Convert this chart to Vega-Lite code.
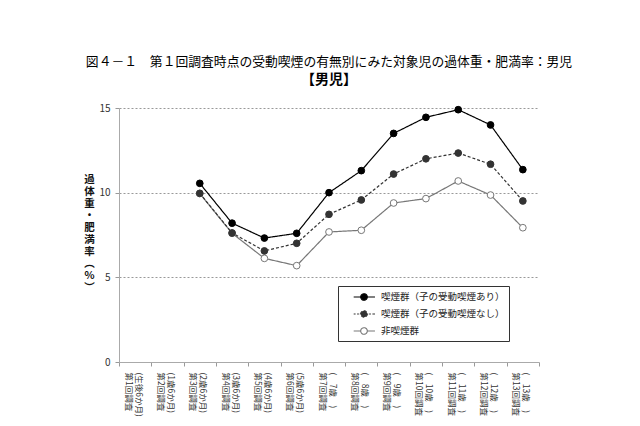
{
  "$schema": "https://vega.github.io/schema/vega-lite/v6.json",
  "width": 420,
  "height": 254,
  "autosize": {"type": "none"},
  "padding": {"left": 119, "top": 108, "right": 101, "bottom": 64},
  "background": "white",
  "config": {
    "font": "Noto Sans CJK JP",
    "view": {"stroke": null},
    "axis": {"domainColor": "#999999", "tickColor": "#999999", "labelColor": "#333333"}
  },
  "title": {
    "text": "図４－１　第１回調査時点の受動喫煙の有無別にみた対象児の過体重・肥満率：男児",
    "subtitle": "【男児】",
    "fontSize": 12.8,
    "fontWeight": "normal",
    "color": "#000000",
    "subtitleFontSize": 14,
    "subtitleFontWeight": "bold",
    "subtitleColor": "#000000",
    "subtitlePadding": 4,
    "anchor": "middle",
    "offset": 16
  },
  "data": {
    "values": [
      {"series": "非喫煙群", "survey": "(生後6か月)|第1回調査", "value": null},
      {"series": "非喫煙群", "survey": "(1歳6か月)|第2回調査", "value": null},
      {"series": "非喫煙群", "survey": "(2歳6か月)|第3回調査", "value": 9.95},
      {"series": "非喫煙群", "survey": "(3歳6か月)|第4回調査", "value": 7.6},
      {"series": "非喫煙群", "survey": "(4歳6か月)|第5回調査", "value": 6.12},
      {"series": "非喫煙群", "survey": "(5歳6か月)|第6回調査", "value": 5.69},
      {"series": "非喫煙群", "survey": "(　7歳　)|第7回調査", "value": 7.68},
      {"series": "非喫煙群", "survey": "(　8歳　)|第8回調査", "value": 7.78},
      {"series": "非喫煙群", "survey": "(　9歳　)|第9回調査", "value": 9.39},
      {"series": "非喫煙群", "survey": "(　10歳　)|第10回調査", "value": 9.65},
      {"series": "非喫煙群", "survey": "(　11歳　)|第11回調査", "value": 10.69},
      {"series": "非喫煙群", "survey": "(　12歳　)|第12回調査", "value": 9.86},
      {"series": "非喫煙群", "survey": "(　13歳　)|第13回調査", "value": 7.93},
      {"series": "喫煙群（子の受動喫煙なし）", "survey": "(2歳6か月)|第3回調査", "value": 9.96},
      {"series": "喫煙群（子の受動喫煙なし）", "survey": "(3歳6か月)|第4回調査", "value": 7.62},
      {"series": "喫煙群（子の受動喫煙なし）", "survey": "(4歳6か月)|第5回調査", "value": 6.56},
      {"series": "喫煙群（子の受動喫煙なし）", "survey": "(5歳6か月)|第6回調査", "value": 7.01},
      {"series": "喫煙群（子の受動喫煙なし）", "survey": "(　7歳　)|第7回調査", "value": 8.72},
      {"series": "喫煙群（子の受動喫煙なし）", "survey": "(　8歳　)|第8回調査", "value": 9.57},
      {"series": "喫煙群（子の受動喫煙なし）", "survey": "(　9歳　)|第9回調査", "value": 11.1},
      {"series": "喫煙群（子の受動喫煙なし）", "survey": "(　10歳　)|第10回調査", "value": 12.0},
      {"series": "喫煙群（子の受動喫煙なし）", "survey": "(　11歳　)|第11回調査", "value": 12.34},
      {"series": "喫煙群（子の受動喫煙なし）", "survey": "(　12歳　)|第12回調査", "value": 11.68},
      {"series": "喫煙群（子の受動喫煙なし）", "survey": "(　13歳　)|第13回調査", "value": 9.51},
      {"series": "喫煙群（子の受動喫煙あり）", "survey": "(2歳6か月)|第3回調査", "value": 10.55},
      {"series": "喫煙群（子の受動喫煙あり）", "survey": "(3歳6か月)|第4回調査", "value": 8.2},
      {"series": "喫煙群（子の受動喫煙あり）", "survey": "(4歳6か月)|第5回調査", "value": 7.32},
      {"series": "喫煙群（子の受動喫煙あり）", "survey": "(5歳6か月)|第6回調査", "value": 7.6},
      {"series": "喫煙群（子の受動喫煙あり）", "survey": "(　7歳　)|第7回調査", "value": 10.0},
      {"series": "喫煙群（子の受動喫煙あり）", "survey": "(　8歳　)|第8回調査", "value": 11.3},
      {"series": "喫煙群（子の受動喫煙あり）", "survey": "(　9歳　)|第9回調査", "value": 13.5},
      {"series": "喫煙群（子の受動喫煙あり）", "survey": "(　10歳　)|第10回調査", "value": 14.45},
      {"series": "喫煙群（子の受動喫煙あり）", "survey": "(　11歳　)|第11回調査", "value": 14.9},
      {"series": "喫煙群（子の受動喫煙あり）", "survey": "(　12歳　)|第12回調査", "value": 14.0},
      {"series": "喫煙群（子の受動喫煙あり）", "survey": "(　13歳　)|第13回調査", "value": 11.36}
    ]
  },
  "encoding": {
    "x": {
      "field": "survey",
      "type": "nominal",
      "bandPosition": 0.5,
      "scale": {
        "type": "band",
        "paddingInner": 0,
        "paddingOuter": 0,
        "domain": ["(生後6か月)|第1回調査", "(1歳6か月)|第2回調査", "(2歳6か月)|第3回調査", "(3歳6か月)|第4回調査", "(4歳6か月)|第5回調査", "(5歳6か月)|第6回調査", "(　7歳　)|第7回調査", "(　8歳　)|第8回調査", "(　9歳　)|第9回調査", "(　10歳　)|第10回調査", "(　11歳　)|第11回調査", "(　12歳　)|第12回調査", "(　13歳　)|第13回調査"]
      },
      "axis": {
        "title": null,
        "labelExpr": "datum.value ? split(datum.value, '|') : ''",
        "labelAngle": 90,
        "labelAlign": "left",
        "labelBaseline": "middle",
        "labelFontSize": 8.5,
        "labelLineHeight": 10,
        "labelOffset": 3,
        "labelPadding": 6,
        "labelColor": "#333333",
        "tickBand": "extent",
        "tickSize": 4,
        "grid": false,
        "domainColor": "#aaaaaa"
      }
    },
    "y": {
      "field": "value",
      "type": "quantitative",
      "scale": {"domain": [0, 15], "nice": false},
      "axis": {
        "values": [0, 5, 10, 15],
        "title": ["過", "体", "重", "・", "肥", "満", "率", "︵", "％", "︶"],
        "titleAngle": 0,
        "titleX": -30,
        "titleY": 71,
        "titleAlign": "center",
        "titleBaseline": "middle",
        "titleLineHeight": 12,
        "titleFontSize": 10.5,
        "titleFontWeight": "bold",
        "titleColor": "#111111",
        "labelFontSize": 10,
        "labelPadding": 5,
        "tickSize": 4,
        "grid": true,
        "gridColor": "#999999",
        "gridDash": [2, 2],
        "gridOpacity": {"condition": {"test": "datum.value === 0", "value": 0}, "value": 1},
        "domainColor": "#aaaaaa"
      }
    }
  },
  "layer": [
    {
      "mark": {"type": "line", "strokeWidth": 1.2},
      "encoding": {
        "stroke": {
          "field": "series",
          "type": "nominal",
          "scale": {"domain": ["喫煙群（子の受動喫煙あり）", "喫煙群（子の受動喫煙なし）", "非喫煙群"], "range": ["#000000", "#333333", "#777777"]},
          "legend": {
            "title": null,
            "orient": "none",
            "legendX": 219,
            "legendY": 178,
            "padding": 4,
            "strokeColor": "#333333",
            "fillColor": "#ffffff",
            "labelFontSize": 9.5,
            "labelColor": "#222222",
            "labelOffset": 25,
            "labelLimit": 300,
            "labelExpr": "datum.label + '　　'",
            "symbolSize": 144,
            "rowPadding": 4,
            "encode": {
              "symbols": {
                "update": {
                  "shape": {"signal": "datum.index === 1 ? 'M0.78,0H1.1M1.35,0H1.65M1.8,0H1.95M3.05,0H3.2M3.35,0H3.65M3.9,0H4.33M3.05,0A0.55,0.55,0,1,1,1.95,0A0.55,0.55,0,1,1,3.05,0Z' : 'M0.78,0H1.95M3.05,0H4.33M3.05,0A0.55,0.55,0,1,1,1.95,0A0.55,0.55,0,1,1,3.05,0Z'"},
                  "fill": {"signal": "datum.index === 0 ? '#000000' : datum.index === 1 ? '#333333' : '#ffffff'"},
                  "stroke": {"signal": "datum.index === 0 ? '#000000' : datum.index === 1 ? '#333333' : '#666666'"},
                  "strokeWidth": {"value": 1.1},
                  "strokeDash": {"value": [1, 0]},
                  "opacity": {"value": 1}
                }
              }
            }
          }
        },
        "strokeDash": {
          "field": "series",
          "type": "nominal",
          "scale": {"domain": ["喫煙群（子の受動喫煙あり）", "喫煙群（子の受動喫煙なし）", "非喫煙群"], "range": [[1, 0], [3, 2], [1, 0]]},
          "legend": null
        }
      }
    },
    {
      "mark": {"type": "point", "shape": "circle", "size": 45, "strokeWidth": 1, "opacity": 1},
      "encoding": {
        "fill": {
          "field": "series",
          "type": "nominal",
          "scale": {"domain": ["喫煙群（子の受動喫煙あり）", "喫煙群（子の受動喫煙なし）", "非喫煙群"], "range": ["#000000", "#333333", "#ffffff"]},
          "legend": null
        },
        "stroke": {
          "field": "series",
          "type": "nominal",
          "scale": {"domain": ["喫煙群（子の受動喫煙あり）", "喫煙群（子の受動喫煙なし）", "非喫煙群"], "range": ["#000000", "#333333", "#777777"]},
          "legend": null
        }
      }
    }
  ]
}
